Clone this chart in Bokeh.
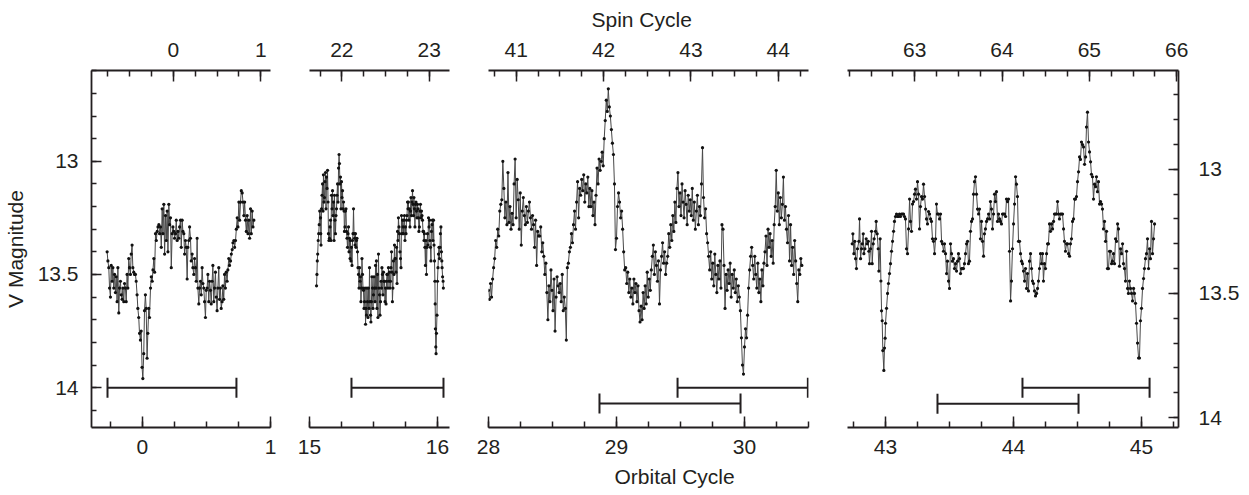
import math
from bokeh.plotting import figure
from bokeh.layouts import row
from bokeh.models import Range1d, LinearAxis, SingleIntervalTicker, Title, CustomJSTickFormatter
from bokeh.embed import file_html
from bokeh.resources import INLINE

FONT = "Liberation Sans"
INK = "#231f20"
LINE = "#484848"

# spin cycles per orbital cycle, and orbital phase where spin cycle 0 starts
SPIN_PER_ORBIT = 1.4656
SPIN_ZERO_ORBIT = 0.242

# ---------------- data (orbital cycle, V magnitude) ----------------
P1 = [(-0.276,13.40),(-0.270,13.44),(-0.263,13.47),(-0.257,13.56),(-0.250,13.60),(-0.244,13.46),(-0.237,13.53),(-0.231,13.47),(-0.224,13.56),(-0.218,13.50),
(-0.211,13.58),(-0.205,13.51),(-0.198,13.62),(-0.192,13.47),(-0.185,13.67),(-0.179,13.56),(-0.172,13.53),(-0.166,13.59),(-0.159,13.61),(-0.153,13.56),
(-0.146,13.62),(-0.140,13.54),(-0.133,13.56),(-0.127,13.62),(-0.120,13.50),(-0.114,13.56),(-0.107,13.43),(-0.101,13.47),(-0.094,13.50),(-0.088,13.41),
(-0.081,13.37),(-0.075,13.47),(-0.068,13.49),(-0.062,13.50),(-0.055,13.50),(-0.049,13.53),(-0.042,13.59),(-0.036,13.65),(-0.029,13.69),(-0.023,13.76),
(-0.016,13.79),(-0.010,13.75),(-0.003,13.91),(0.003,13.96),(0.010,13.85),(0.016,13.66),(0.023,13.59),(0.029,13.65),(0.036,13.87),(0.042,13.76),
(0.049,13.65),(0.055,13.69),(0.063,13.56),(0.069,13.51),(0.076,13.53),(0.082,13.48),(0.089,13.43),(0.095,13.49),(0.102,13.32),(0.108,13.35),
(0.115,13.31),(0.121,13.29),(0.128,13.28),(0.134,13.32),(0.141,13.29),(0.147,13.38),(0.154,13.21),(0.160,13.32),(0.167,13.19),(0.173,13.41),
(0.180,13.24),(0.186,13.35),(0.193,13.22),(0.199,13.40),(0.206,13.19),(0.212,13.28),(0.219,13.25),(0.225,13.47),(0.232,13.32),(0.238,13.29),
(0.245,13.31),(0.251,13.34),(0.258,13.32),(0.264,13.26),(0.271,13.35),(0.277,13.31),(0.284,13.34),(0.290,13.29),(0.297,13.26),(0.303,13.38),
(0.310,13.26),(0.316,13.31),(0.323,13.32),(0.329,13.41),(0.336,13.35),(0.342,13.38),(0.349,13.52),(0.355,13.38),(0.362,13.35),(0.368,13.29),
(0.375,13.34),(0.381,13.44),(0.388,13.41),(0.394,13.47),(0.401,13.50),(0.407,13.43),(0.414,13.47),(0.420,13.53),(0.427,13.34),(0.433,13.56),
(0.440,13.63),(0.446,13.56),(0.453,13.53),(0.459,13.59),(0.466,13.47),(0.472,13.54),(0.479,13.56),(0.485,13.62),(0.492,13.69),(0.498,13.57),
(0.505,13.56),(0.511,13.50),(0.518,13.62),(0.524,13.53),(0.531,13.57),(0.537,13.63),(0.544,13.53),(0.550,13.46),(0.557,13.62),(0.563,13.56),
(0.570,13.49),(0.576,13.60),(0.583,13.66),(0.589,13.56),(0.596,13.47),(0.602,13.61),(0.609,13.56),(0.615,13.65),(0.622,13.62),(0.628,13.55),
(0.635,13.61),(0.641,13.50),(0.648,13.56),(0.654,13.49),(0.661,13.53),(0.667,13.48),(0.674,13.43),(0.680,13.46),(0.688,13.44),(0.694,13.41),
(0.701,13.39),(0.707,13.36),(0.714,13.35),(0.720,13.38),(0.727,13.35),(0.733,13.30),(0.740,13.25),(0.746,13.29),(0.753,13.18),(0.759,13.26),
(0.766,13.18),(0.772,13.13),(0.779,13.14),(0.785,13.18),(0.792,13.24),(0.798,13.18),(0.805,13.26),(0.811,13.31),(0.818,13.24),(0.824,13.32),
(0.831,13.26),(0.837,13.34),(0.844,13.21),(0.850,13.32),(0.857,13.22),(0.863,13.29),(0.870,13.26)]

P2 = [(15.055,13.55),(15.058,13.50),(15.061,13.44),(15.064,13.41),(15.068,13.35),(15.072,13.32),(15.076,13.28),(15.080,13.22),(15.086,13.25),(15.088,13.32),(15.090,13.37),
(15.094,13.21),(15.098,13.15),(15.102,13.10),(15.106,13.22),(15.109,13.06),(15.113,13.18),(15.117,13.16),(15.121,13.09),(15.125,13.05),(15.129,13.21),
(15.133,13.07),(15.137,13.12),(15.141,13.04),(15.145,13.18),(15.148,13.32),(15.152,13.35),(15.156,13.34),(15.160,13.29),(15.164,13.26),(15.168,13.35),
(15.172,13.15),(15.176,13.21),(15.180,13.13),(15.184,13.24),(15.188,13.18),(15.192,13.35),(15.195,13.15),(15.199,13.26),(15.203,13.32),(15.207,13.24),
(15.211,13.21),(15.215,13.15),(15.219,13.10),(15.223,13.18),(15.227,13.03),(15.231,12.97),(15.234,13.01),(15.238,13.10),(15.242,13.07),(15.246,13.21),
(15.250,13.09),(15.254,13.16),(15.258,13.13),(15.262,13.21),(15.266,13.18),(15.270,13.22),(15.273,13.31),(15.277,13.29),(15.281,13.22),(15.285,13.21),
(15.289,13.31),(15.293,13.34),(15.297,13.38),(15.301,13.32),(15.305,13.29),(15.309,13.40),(15.313,13.34),(15.317,13.43),(15.320,13.35),(15.324,13.44),
(15.328,13.38),(15.332,13.46),(15.336,13.35),(15.340,13.32),(15.344,13.21),(15.348,13.32),(15.352,13.34),(15.356,13.37),(15.359,13.32),(15.363,13.38),
(15.367,13.35),(15.371,13.34),(15.375,13.40),(15.379,13.47),(15.383,13.50),(15.387,13.56),(15.391,13.47),(15.395,13.53),(15.398,13.51),(15.402,13.62),
(15.406,13.56),(15.410,13.43),(15.414,13.50),(15.418,13.56),(15.422,13.57),(15.426,13.65),(15.430,13.62),(15.434,13.56),(15.438,13.72),(15.441,13.65),
(15.445,13.68),(15.449,13.56),(15.453,13.62),(15.457,13.69),(15.461,13.56),(15.465,13.65),(15.469,13.47),(15.473,13.62),(15.477,13.68),(15.480,13.71),
(15.484,13.62),(15.488,13.51),(15.492,13.56),(15.496,13.65),(15.500,13.59),(15.504,13.51),(15.508,13.56),(15.512,13.62),(15.516,13.46),(15.520,13.56),
(15.523,13.44),(15.527,13.65),(15.531,13.50),(15.535,13.69),(15.539,13.41),(15.543,13.56),(15.547,13.59),(15.551,13.68),(15.555,13.62),(15.559,13.53),
(15.563,13.56),(15.566,13.47),(15.570,13.50),(15.574,13.59),(15.578,13.49),(15.582,13.53),(15.586,13.53),(15.590,13.62),(15.594,13.56),(15.598,13.63),
(15.602,13.53),(15.605,13.50),(15.609,13.50),(15.613,13.56),(15.617,13.47),(15.621,13.53),(15.625,13.49),(15.629,13.56),(15.633,13.53),(15.637,13.47),
(15.641,13.40),(15.645,13.49),(15.648,13.62),(15.652,13.56),(15.656,13.44),(15.660,13.50),(15.664,13.37),(15.668,13.43),(15.672,13.43),(15.676,13.49),
(15.680,13.38),(15.684,13.54),(15.688,13.31),(15.691,13.35),(15.695,13.25),(15.699,13.29),(15.703,13.32),(15.707,13.40),(15.711,13.43),(15.715,13.47),
(15.719,13.24),(15.723,13.32),(15.727,13.26),(15.731,13.29),(15.734,13.32),(15.738,13.26),(15.742,13.24),(15.746,13.35),(15.750,13.29),(15.754,13.32),
(15.758,13.26),(15.762,13.24),(15.766,13.18),(15.770,13.21),(15.773,13.18),(15.777,13.26),(15.781,13.21),(15.785,13.29),(15.789,13.22),(15.793,13.16),
(15.797,13.24),(15.801,13.18),(15.805,13.13),(15.809,13.19),(15.813,13.24),(15.816,13.16),(15.820,13.21),(15.824,13.29),(15.828,13.19),(15.832,13.18),
(15.836,13.22),(15.840,13.25),(15.844,13.19),(15.848,13.21),(15.852,13.25),(15.855,13.31),(15.859,13.29),(15.863,13.22),(15.867,13.19),(15.871,13.25),
(15.875,13.22),(15.879,13.24),(15.883,13.26),(15.887,13.31),(15.891,13.31),(15.895,13.35),(15.898,13.32),(15.902,13.38),(15.906,13.46),(15.910,13.35),
(15.914,13.50),(15.918,13.38),(15.922,13.32),(15.926,13.37),(15.930,13.25),(15.934,13.29),(15.938,13.26),(15.941,13.35),(15.945,13.38),(15.949,13.44),
(15.953,13.31),(15.957,13.28),(15.961,13.26),(15.965,13.35),(15.969,13.26),(15.973,13.37),(15.977,13.44),(15.980,13.53),(15.982,13.63),(15.984,13.74),
(15.987,13.82),(15.989,13.85),(15.992,13.76),(15.996,13.68),(16.000,13.53),(16.004,13.47),(16.008,13.41),(16.012,13.38),(16.016,13.43),(16.020,13.38),
(16.023,13.32),(16.027,13.29),(16.031,13.40),(16.034,13.44),(16.036,13.47),(16.040,13.51),(16.044,13.53),(16.046,13.56)]

P3_ORB = [
28.000,28.008,28.016,28.024,28.032,28.040,28.048,28.056,28.064,28.072,28.080,28.088,28.096,28.104,28.112,28.120,28.128,28.136,28.144,28.152,28.160,28.168,28.176,28.184,28.192,
28.200,28.208,28.216,28.224,28.232,28.240,28.248,28.256,28.264,28.272,28.280,28.288,28.296,28.304,28.312,28.320,28.328,28.336,28.344,28.352,28.360,28.368,28.376,28.384,28.392,
28.400,28.408,28.416,28.424,28.432,28.440,28.448,28.456,28.464,28.472,28.480,28.488,28.496,28.504,28.512,28.520,28.528,28.536,28.544,28.552,28.560,28.568,28.576,28.584,28.592,
28.600,28.608,28.616,28.624,28.632,28.640,28.648,28.656,28.664,28.672,28.680,28.688,28.696,28.704,28.712,28.720,28.728,28.736,28.744,28.752,28.760,28.768,28.776,28.784,28.792,
28.800,28.808,28.816,28.824,28.832,28.840,28.848,28.856,28.864,28.872,28.880,28.888,28.896,28.904,28.912,28.920,28.928,28.936,28.944,28.952,28.960,28.968,28.976,28.984,28.992,
29.000,29.008,29.016,29.024,29.032,29.040,29.048,29.056,29.064,29.072,29.080,29.088,29.096,29.104,29.112,29.120,29.128,29.136,29.144,29.152,29.160,29.168,29.176,29.184,29.192,
29.200,29.208,29.216,29.224,29.232,29.240,29.248,29.256,29.264,29.272,29.280,29.288,29.296,29.304,29.312,29.320,29.328,29.336,29.344,29.352,29.360,29.368,29.376,29.384,29.392,
29.400,29.408,29.416,29.424,29.432,29.440,29.448,29.456,29.464,29.472,29.480,29.488,29.496,29.504,29.512,29.520,29.528,29.536,29.544,29.552,29.560,29.568,29.576,29.584,29.592,
29.600,29.608,29.616,29.624,29.632,29.640,29.648,29.656,29.664,29.672,29.680,29.688,29.696,29.704,29.712,29.720,29.728,29.736,29.744,29.752,29.760,29.768,29.776,29.784,29.792,
29.800,29.808,29.816,29.824,29.832,29.840,29.848,29.856,29.864,29.872,29.880,29.888,29.896,29.904,29.912,29.920,29.928,29.936,29.944,29.952,29.960,29.968,29.976,29.984,29.992,
30.000,30.008,30.016,30.024,30.032,30.040,30.048,30.056,30.064,30.072,30.080,30.088,30.096,30.104,30.112,30.120,30.128,30.136,30.144,30.152,30.160,30.168,30.176,30.184,30.192,
30.200,30.208,30.216,30.224,30.232,30.240,30.248,30.256,30.264,30.272,30.280,30.288,30.296,30.304,30.312,30.320,30.328,30.336,30.344,30.352,30.360,30.368,30.376,30.384,30.392,
30.400,30.408,30.416,30.424,30.432,30.440,30.448]

P3_MAG = [
13.57,13.61,13.54,13.60,13.52,13.47,13.43,13.35,13.38,13.30,13.33,13.22,13.19,13.17,13.00,13.12,13.25,13.18,13.28,13.05,13.27,13.20,13.30,13.23,13.28,
13.10,12.99,13.25,13.08,13.17,13.30,13.14,13.37,13.22,13.16,13.24,13.28,13.20,13.27,13.22,13.18,13.25,13.30,13.24,13.28,13.38,13.26,13.46,13.31,13.33,
13.33,13.29,13.40,13.36,13.42,13.50,13.45,13.58,13.70,13.55,13.62,13.48,13.57,13.66,13.52,13.75,13.60,13.51,13.55,13.58,13.54,13.62,13.50,13.66,13.60,
13.65,13.79,13.47,13.45,13.40,13.38,13.32,13.36,13.28,13.22,13.30,13.18,13.09,13.25,13.12,13.15,13.08,13.13,13.06,13.18,13.10,13.14,13.07,13.20,13.12,
13.20,13.13,13.24,13.18,13.28,13.15,13.03,13.10,12.99,13.04,13.00,12.96,13.02,12.90,12.82,12.73,12.78,12.68,12.76,12.80,12.86,12.92,12.97,13.10,13.39,
13.34,13.20,13.14,13.18,13.25,13.22,13.30,13.40,13.48,13.47,13.54,13.49,13.58,13.52,13.60,13.56,13.63,13.52,13.58,13.54,13.62,13.55,13.66,13.71,13.64,
13.70,13.58,13.65,13.55,13.63,13.49,13.60,13.52,13.57,13.48,13.42,13.37,13.50,13.40,13.46,13.53,13.44,13.63,13.48,13.42,13.36,13.45,13.40,13.50,13.45,
13.42,13.32,13.38,13.28,13.35,13.24,13.31,13.18,13.27,13.12,13.05,13.20,13.14,13.24,13.10,13.18,13.25,13.13,13.19,13.28,13.15,13.22,13.17,13.24,13.12,
13.26,13.18,13.30,13.22,13.15,13.28,13.20,13.24,13.10,12.94,13.16,13.25,13.21,13.32,13.36,13.42,13.48,13.40,13.52,13.45,13.55,13.41,13.50,13.58,13.46,
13.52,13.44,13.56,13.28,13.30,13.46,13.65,13.50,13.57,13.48,13.54,13.45,13.60,13.50,13.56,13.48,13.58,13.52,13.62,13.55,13.60,13.66,13.78,13.90,13.94,
13.82,13.74,13.78,13.68,13.56,13.48,13.42,13.38,13.46,13.52,13.42,13.50,13.56,13.45,13.58,13.52,13.62,13.48,13.55,13.45,13.40,13.33,13.46,13.30,13.38,
13.32,13.42,13.35,13.45,13.28,13.20,13.04,13.22,13.14,13.28,13.16,13.25,13.19,13.07,13.26,13.20,13.30,13.36,13.24,13.44,13.28,13.46,13.38,13.50,13.35,
13.44,13.54,13.62,13.48,13.50,13.43,13.46]

# panel 4 is read against the right-hand magnitude axis
P4_EARLY = [(42.740,13.30),(42.745,13.26),(42.753,13.34),(42.760,13.29),(42.766,13.36),(42.773,13.40),(42.781,13.32),(42.792,13.29),(42.797,13.20),(42.805,13.36),
(42.813,13.32),(42.818,13.30),(42.826,13.26),(42.831,13.34),(42.839,13.32),(42.849,13.28),(42.857,13.30),(42.865,13.29),(42.870,13.33),(42.875,13.38),
(42.883,13.32),(42.891,13.25),(42.896,13.38),(42.904,13.30),(42.911,13.28),(42.922,13.25),(42.927,13.21),(42.935,13.26),(42.943,13.32),(42.948,13.41),
(42.958,13.28),(42.964,13.45),(42.969,13.57),(42.974,13.61),(42.979,13.73),(42.987,13.81),(42.992,13.72),(42.997,13.68)]

P4_ORB = [
43.000,43.008,43.016,43.023,43.031,43.039,43.047,43.055,43.063,43.070,43.078,43.086,43.094,43.102,43.109,43.117,
43.125,43.133,43.141,43.148,43.156,43.164,43.172,43.180,43.188,43.195,43.203,43.211,43.219,43.227,43.234,43.242,
43.250,43.258,43.266,43.273,43.281,43.289,43.297,43.305,43.313,43.320,43.328,43.336,43.344,43.352,43.359,43.367,
43.375,43.383,43.391,43.398,43.406,43.414,43.422,43.430,43.438,43.445,43.453,43.461,43.469,43.477,43.484,43.492,
43.500,43.508,43.516,43.523,43.531,43.539,43.547,43.555,43.563,43.570,43.578,43.586,43.594,43.602,43.609,43.617,
43.625,43.633,43.641,43.648,43.656,43.664,43.672,43.680,43.688,43.695,43.703,43.711,43.719,43.727,43.734,43.742,
43.750,43.758,43.766,43.773,43.781,43.789,43.797,43.805,43.813,43.820,43.828,43.836,43.844,43.852,43.859,43.867,
43.875,43.883,43.891,43.898,43.906,43.914,43.922,43.930,43.938,43.945,43.953,43.961,43.969,43.977,43.984,43.992,
44.000,44.008,44.016,44.023,44.031,44.039,44.047,44.055,44.063,44.070,44.078,44.086,44.094,44.102,44.109,44.117,
44.125,44.133,44.141,44.148,44.156,44.164,44.172,44.180,44.188,44.195,44.203,44.211,44.219,44.227,44.234,44.242,
44.250,44.258,44.266,44.273,44.281,44.289,44.297,44.305,44.313,44.320,44.328,44.336,44.344,44.352,44.359,44.367,
44.375,44.383,44.391,44.398,44.406,44.414,44.422,44.430,44.438,44.445,44.453,44.461,44.469,44.477,44.484,44.492,
44.500,44.508,44.516,44.523,44.531,44.539,44.547,44.555,44.563,44.570,44.578,44.586,44.594,44.602,44.609,44.617,
44.625,44.633,44.641,44.648,44.656,44.664,44.672,44.680,44.688,44.695,44.703,44.711,44.719,44.727,44.734,44.742,
44.750,44.758,44.766,44.773,44.781,44.789,44.797,44.805,44.813,44.820,44.828,44.836,44.844,44.852,44.859,44.867,
44.875,44.883,44.891,44.898,44.906,44.914,44.922,44.930,44.938,44.945,44.953,44.961,44.969,44.977,44.984,44.992,
45.000,45.008,45.016,45.023,45.031,45.039,45.047,45.055,45.063,45.070,45.078,45.086,45.094,45.102]

P4_MAG = [
13.62,13.56,13.50,13.46,13.42,13.38,13.33,13.29,13.25,13.21,
13.19,13.18,13.19,13.19,13.18,13.19,13.18,13.18,13.18,13.19,
13.20,13.32,13.34,13.24,13.12,13.21,13.25,13.14,13.13,13.10,
13.08,13.12,13.05,13.10,13.24,13.15,13.11,13.12,13.06,13.11,
13.16,13.20,13.22,13.17,13.18,13.20,13.21,13.28,13.29,13.34,
13.28,13.14,13.18,13.18,13.20,13.18,13.29,13.30,13.33,13.30,
13.34,13.42,13.37,13.45,13.48,13.30,13.34,13.37,13.36,13.40,
13.38,13.41,13.37,13.34,13.36,13.42,13.40,13.40,13.40,13.38,
13.34,13.30,13.29,13.38,13.37,13.25,13.21,13.20,13.10,13.05,
13.03,13.10,13.16,13.18,13.16,13.28,13.21,13.29,13.35,13.26,
13.24,13.21,13.20,13.18,13.20,13.13,13.16,13.24,13.18,13.10,
13.13,13.09,13.21,13.18,13.20,13.21,13.22,13.18,13.18,13.18,
13.19,13.12,13.13,13.12,13.33,13.53,13.45,13.32,13.22,13.14,
13.03,13.06,13.11,13.29,13.29,13.34,13.37,13.38,13.41,13.45,
13.40,13.48,13.42,13.49,13.37,13.34,13.40,13.45,13.46,13.49,
13.51,13.50,13.48,13.45,13.40,13.34,13.38,13.34,13.45,13.38,
13.40,13.34,13.30,13.30,13.22,13.25,13.22,13.24,13.21,13.18,
13.18,13.18,13.13,13.18,13.20,13.18,13.18,13.18,13.24,13.29,
13.33,13.30,13.30,13.34,13.35,13.30,13.28,13.21,13.20,13.12,
13.12,13.11,13.05,13.01,12.95,12.96,12.89,12.90,12.91,12.98,
12.95,12.83,12.77,12.89,12.93,12.97,13.02,13.03,13.12,13.06,
13.07,13.03,13.09,13.05,13.14,13.13,13.14,13.16,13.24,13.21,
13.29,13.25,13.40,13.40,13.33,13.33,13.38,13.37,13.34,13.38,
13.28,13.29,13.22,13.24,13.39,13.32,13.34,13.30,13.38,13.40,
13.45,13.33,13.48,13.50,13.45,13.48,13.50,13.53,13.48,13.50,
13.54,13.62,13.70,13.76,13.76,13.61,13.56,13.48,13.44,13.40,
13.36,13.34,13.28,13.40,13.32,13.36,13.21,13.34,13.28,13.22]

# horizontal marker bars: panel index, orbital start, orbital end, magnitude
BAR_PANEL = [0, 1, 2, 2, 3, 3]
BAR_FROM = [-0.273, 15.328, 29.477, 28.867, 44.070, 43.406]
BAR_TO = [0.734, 16.047, 30.495, 29.969, 45.063, 44.508]
BAR_MAG = [14.00, 14.00, 14.00, 14.07, 13.880, 13.944]

assert len(P3_ORB) == len(P3_MAG), (len(P3_ORB), len(P3_MAG))
assert len(P4_ORB) == len(P4_MAG), (len(P4_ORB), len(P4_MAG))

# ---------------- layout ----------------
X_LIMITS = [(-0.398, 1.0), (15.0, 16.094), (28.0, 30.5), (42.703, 45.289)]
Y_LEFT = (14.176, 12.599)
Y_RIGHT = (14.040, 12.602)
H = 495


def spin(o):
    return SPIN_PER_ORBIT * (o - SPIN_ZERO_ORBIT)


def style_axis(ax, is_x):
    ax.axis_line_color = INK
    ax.axis_line_width = 1.8
    ax.major_tick_line_color = INK
    ax.minor_tick_line_color = INK
    ax.major_tick_line_width = 1.5
    ax.minor_tick_line_width = 1.5
    ax.major_tick_in = 11 if is_x else 10
    ax.major_tick_out = 0
    ax.minor_tick_in = 6 if is_x else 5
    ax.minor_tick_out = 0
    ax.major_label_text_font = FONT
    ax.major_label_text_font_size = "21px"
    ax.major_label_text_color = INK
    ax.axis_label_text_font = FONT
    ax.axis_label_text_font_size = "21px"
    ax.axis_label_text_font_style = "normal"
    ax.axis_label_text_color = INK


def make_panel(i, t, m, yr, width, bl, br, yloc):
    xr = X_LIMITS[i]
    p = figure(width=width, height=H, x_range=Range1d(*xr), y_range=Range1d(*yr),
               x_axis_location="below", y_axis_location=yloc,
               toolbar_location=None, output_backend="svg",
               min_border_left=bl, min_border_right=br,
               min_border_top=69, min_border_bottom=68,
               background_fill_color="white", border_fill_color="white")
    p.outline_line_color = None
    p.grid.visible = False
    p.extra_x_ranges = {"spin": Range1d(spin(xr[0]), spin(xr[1]))}
    p.add_layout(LinearAxis(x_range_name="spin"), "above")
    for ax in p.xaxis:
        style_axis(ax, True)
        ax.ticker = SingleIntervalTicker(interval=1, num_minor_ticks=4)
        ax.major_label_standoff = 12
    p.above[0].major_label_standoff = 14
    for ax in p.yaxis:
        style_axis(ax, False)
        ax.ticker = SingleIntervalTicker(interval=0.5, num_minor_ticks=5)
        ax.formatter = CustomJSTickFormatter(code="return String(Math.round(tick*10)/10);")
        ax.major_label_standoff = 13 if yloc == "left" else 20
    p.line(t, m, line_color=LINE, line_width=1)
    p.scatter(t, m, size=3.2, fill_color="#111111", line_color=None)
    idx = [k for k in range(len(BAR_PANEL)) if BAR_PANEL[k] == i]
    x0 = [BAR_FROM[k] for k in idx]
    x1 = [BAR_TO[k] for k in idx]
    yb = [BAR_MAG[k] for k in idx]
    p.segment(x0=x0, y0=yb, x1=x1, y1=yb, line_color=INK, line_width=2)
    p.scatter(x=x0 + x1, y=yb + yb, marker="dash", angle=math.pi / 2, size=20,
              line_color=INK, line_width=2)
    return p


p1 = make_panel(0, [a for a, b in P1], [b for a, b in P1], Y_LEFT, 290, 91, 20, "left")
p1.yaxis[0].axis_label = "V Magnitude"
p1.yaxis[0].axis_label_standoff = 8

p2 = make_panel(1, [a for a, b in P2], [b for a, b in P2], Y_LEFT, 178, 19, 19, None)
p3 = make_panel(2, P3_ORB, P3_MAG, Y_LEFT, 360, 20, 20, None)
p4 = make_panel(3, [a for a, b in P4_EARLY] + P4_ORB, [b for a, b in P4_EARLY] + P4_MAG,
                Y_RIGHT, 421, 19, 71, "right")

p3.add_layout(Title(text="Spin Cycle", align="left", offset=103, standoff=14,
                    vertical_align="top",
                    text_font=FONT, text_font_size="21px", text_font_style="normal",
                    text_color=INK), "above")
p3.add_layout(Title(text="Orbital Cycle", align="left", offset=126, standoff=13,
                    text_font=FONT, text_font_size="21px", text_font_style="normal",
                    text_color=INK), "below")

layout = row(p1, p2, p3, p4)
open("out.html", "w").write(file_html(layout, INLINE))
